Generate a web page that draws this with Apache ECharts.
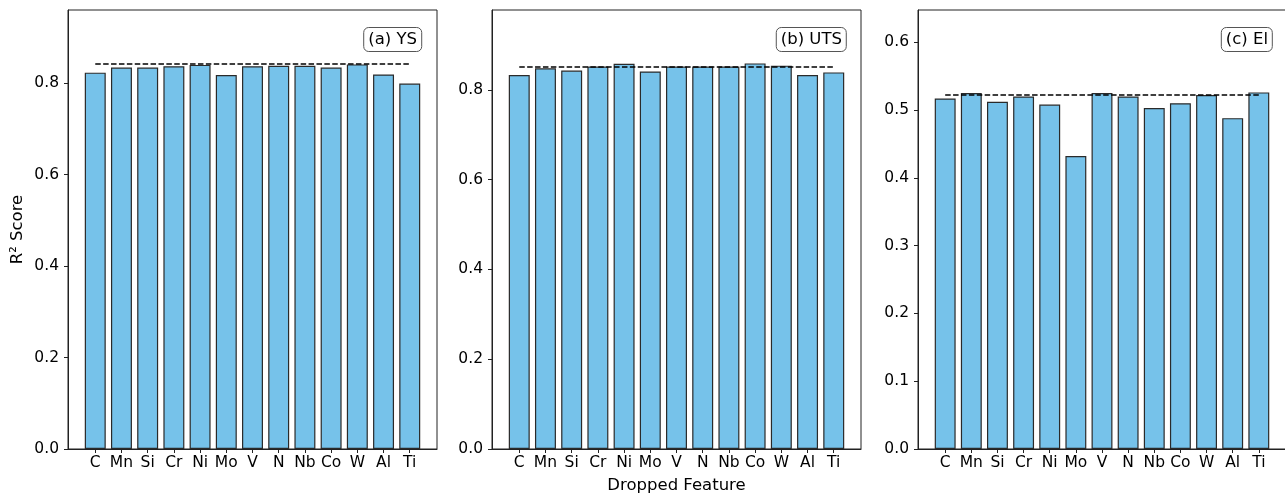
<!DOCTYPE html>
<html>
<head>
<meta charset="utf-8">
<script src="https://cdn.jsdelivr.net/npm/echarts@6/dist/echarts.min.js"></script>
<style>
  html, body { margin: 0; padding: 0; background: #fff; }
  #chart { width: 1285px; height: 496px; }
</style>
</head>
<body>
<div id="chart"></div>
<script>
// Dropped-feature ablation: R² score per property after removing each element
const categories = ['C', 'Mn', 'Si', 'Cr', 'Ni', 'Mo', 'V', 'N', 'Nb', 'Co', 'W', 'Al', 'Ti'];
const ysScores  = [0.823, 0.834, 0.834, 0.837, 0.840, 0.818, 0.837, 0.838, 0.838, 0.834, 0.841, 0.819, 0.799];
const utsScores = [0.833, 0.848, 0.843, 0.852, 0.858, 0.841, 0.852, 0.852, 0.852, 0.859, 0.854, 0.833, 0.839];
const elScores  = [0.517, 0.525, 0.512, 0.520, 0.508, 0.432, 0.525, 0.520, 0.503, 0.510, 0.522, 0.488, 0.526];
// full-feature model score (dashed reference line)
const baselines = [0.842, 0.851, 0.522];
const panelTitles = ['(a) YS', '(b) UTS', '(c) El'];
const yTicksA = [0, 0.2, 0.4, 0.6, 0.8];
const yTicksB = [0, 0.2, 0.4, 0.6, 0.8];
const yTicksC = [0, 0.1, 0.2, 0.3, 0.4, 0.5, 0.6];
const yMaxes = [0.960, 0.978, 0.6475];

const panels = [
  { scores: ysScores,  base: baselines[0], title: panelTitles[0], ticks: yTicksA, yMax: yMaxes[0] },
  { scores: utsScores, base: baselines[1], title: panelTitles[1], ticks: yTicksB, yMax: yMaxes[1] },
  { scores: elScores,  base: baselines[2], title: panelTitles[2], ticks: yTicksC, yMax: yMaxes[2] }
];

const FONT = 'DejaVu Sans';
const INK = '#222';
const TICK_FONT = 15.5;
const LABEL_FONT = 16.5;
const gridBoxes = [
  { left: 68,  top: 10, width: 369, bottom: 47 },
  { left: 492, top: 10, width: 369, bottom: 47 },
  { left: 918, top: 10, width: 368, bottom: 47 }
];
const titleRight = [863, 438, 12];
const catIndex = categories.map((_, i) => i);

const chart = echarts.init(document.getElementById('chart'), null, { renderer: 'canvas' });

const option = {
  animation: false,
  backgroundColor: '#fff',
  textStyle: { fontFamily: FONT },
  title: panels.map((p, i) => ({
    text: p.title,
    right: titleRight[i],
    top: 27,
    padding: [4, 5, 3, 5],
    borderColor: '#555',
    borderWidth: 1,
    borderRadius: 5,
    backgroundColor: '#fff',
    textStyle: { fontFamily: FONT, fontSize: LABEL_FONT, fontWeight: 'normal', color: '#000', lineHeight: 18 }
  })),
  grid: gridBoxes.map(g => Object.assign({
    show: true,
    borderColor: INK,
    borderWidth: 1,
    backgroundColor: 'transparent',
    containLabel: false,
    outerBoundsMode: 'none'
  }, g)),
  xAxis: panels.map((p, i) => ({
    type: 'value',
    gridIndex: i,
    min: -1.04,
    max: 13.04,
    name: i === 1 ? 'Dropped Feature' : '',
    nameLocation: 'middle',
    nameGap: 28,
    nameTextStyle: { fontFamily: FONT, fontSize: LABEL_FONT, color: '#000' },
    splitLine: { show: false },
    axisLine: { show: true, onZero: false, lineStyle: { color: INK, width: 1 } },
    axisTick: { show: true, length: 4, customValues: catIndex, lineStyle: { color: INK } },
    axisLabel: {
      customValues: catIndex,
      margin: 6,
      fontFamily: FONT, fontSize: TICK_FONT, color: '#000',
      formatter: v => categories[Math.round(v)] || ''
    }
  })),
  yAxis: panels.map((p, i) => ({
    type: 'value',
    gridIndex: i,
    min: 0,
    max: p.yMax,
    name: i === 0 ? 'R² Score' : '',
    nameLocation: 'middle',
    nameGap: 42,
    nameTextStyle: { fontFamily: FONT, fontSize: LABEL_FONT, color: '#000' },
    splitLine: { show: false },
    axisLine: { show: true, onZero: false, lineStyle: { color: INK, width: 1 } },
    axisTick: { show: true, length: 4, customValues: p.ticks, lineStyle: { color: INK } },
    axisLabel: {
      customValues: p.ticks,
      margin: 9,
      fontFamily: FONT, fontSize: TICK_FONT, color: '#000',
      formatter: v => v.toFixed(1)
    }
  })),
  series: panels.flatMap((p, i) => [
    {
      type: 'bar',
      xAxisIndex: i,
      yAxisIndex: i,
      barWidth: '80%',
      data: p.scores.map((v, k) => [k, v]),
      itemStyle: { color: '#76c2ea', borderColor: '#2a2a2a', borderWidth: 1.2 },
      z: 2
    },
    {
      type: 'line',
      xAxisIndex: i,
      yAxisIndex: i,
      data: [[0, p.base], [categories.length - 1, p.base]],
      symbol: 'none',
      lineStyle: { color: '#000', width: 1.5, type: [5.5, 2.4] },
      z: 3
    }
  ])
};

chart.setOption(option);
</script>
</body>
</html>
